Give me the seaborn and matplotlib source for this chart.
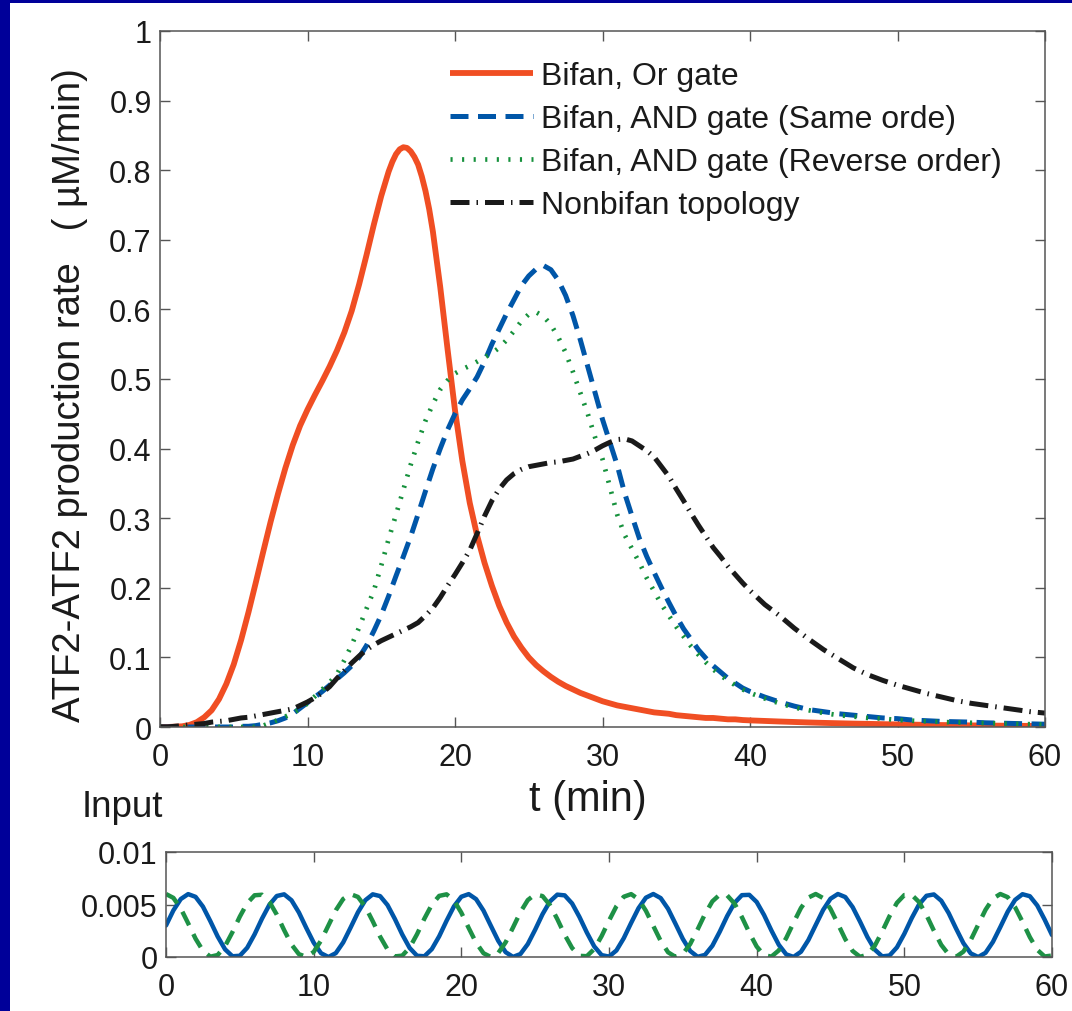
import numpy as np
import pandas as pd
import matplotlib
matplotlib.use("Agg")
import matplotlib.pyplot as plt
from matplotlib.patches import Rectangle
import seaborn as sns

# ---------------- data ----------------
# sampling times of the output curves (min)
t_main = np.concatenate([np.arange(0, 40.5, 0.5), np.arange(41, 61, 1)])

# the Or-gate curve has a few extra samples round its peak
t_or = np.sort(np.concatenate([t_main, [15.75, 16.25, 16.75, 17.25, 17.75, 18.25]]))
or_gate = [
    0.000, 0.000, 0.0005, 0.001, 0.003, 0.007, 0.014, 0.024, 0.040, 0.062, 0.090,
    0.125, 0.165, 0.208, 0.252, 0.295, 0.335, 0.372, 0.405, 0.433, 0.456,
    0.477, 0.497, 0.518, 0.541, 0.567, 0.598, 0.636, 0.678, 0.722, 0.763,
    0.798, 0.812, 0.823, 0.830, 0.833, 0.832, 0.827, 0.819, 0.808, 0.791, 0.770,
    0.744, 0.712, 0.632, 0.542, 0.455,
    0.382, 0.322, 0.275, 0.236, 0.203, 0.174, 0.150, 0.130, 0.114, 0.100,
    0.089, 0.080, 0.072, 0.065, 0.059, 0.054, 0.049, 0.045, 0.041, 0.037,
    0.034, 0.031, 0.029, 0.027, 0.025, 0.023, 0.021, 0.020, 0.019, 0.017,
    0.016, 0.015, 0.014, 0.013, 0.013, 0.012, 0.011, 0.011, 0.010, 0.0095,
    0.0087, 0.0079, 0.0072, 0.0065, 0.0059, 0.0054, 0.0049, 0.0045, 0.0041, 0.0037,
    0.0034, 0.0031, 0.0028, 0.0026, 0.0023, 0.0021, 0.0019, 0.0017, 0.0016, 0.0014,
]

and_same = [
    0, 0, 0, 0, 0, 0, 0, 0, 0, 0, 0,
    0.001, 0.001, 0.002, 0.004, 0.006, 0.009, 0.013, 0.019, 0.027, 0.035,
    0.043, 0.051, 0.060, 0.069, 0.078, 0.088, 0.100, 0.117, 0.138, 0.161,
    0.188, 0.217, 0.245, 0.274, 0.306, 0.339, 0.371, 0.400, 0.427, 0.450,
    0.470, 0.486, 0.503, 0.525, 0.550, 0.572, 0.594, 0.614, 0.634, 0.648,
    0.658, 0.663, 0.657, 0.642, 0.620, 0.591, 0.556, 0.518, 0.480, 0.442,
    0.409, 0.376, 0.336, 0.303, 0.271, 0.245, 0.222, 0.200, 0.179, 0.159,
    0.141, 0.126, 0.111, 0.099, 0.088, 0.079, 0.070, 0.063, 0.056, 0.051,
    0.043, 0.036, 0.030, 0.025, 0.022, 0.019, 0.017, 0.015, 0.013, 0.012,
    0.010, 0.009, 0.008, 0.0075, 0.007, 0.006, 0.0055, 0.005, 0.0045, 0.004,
]

and_reverse = [
    0, 0, 0, 0, 0, 0, 0, 0, 0, 0, 0, 0, 0, 0,
    0.002, 0.006, 0.010, 0.015, 0.020, 0.026, 0.034,
    0.044, 0.054, 0.064, 0.076, 0.096, 0.118, 0.143, 0.170, 0.196, 0.232,
    0.270, 0.305, 0.341, 0.377, 0.410, 0.440, 0.464, 0.485, 0.498, 0.508,
    0.514, 0.519, 0.525, 0.531, 0.537, 0.545, 0.556, 0.569, 0.583, 0.593,
    0.596, 0.590, 0.578, 0.560, 0.538, 0.510, 0.480, 0.450, 0.416, 0.385,
    0.345, 0.305, 0.276, 0.256, 0.236, 0.214, 0.195, 0.176, 0.160, 0.144,
    0.130, 0.116, 0.104, 0.093, 0.083, 0.074, 0.067, 0.060, 0.054, 0.049,
    0.041, 0.034, 0.028, 0.024, 0.020, 0.017, 0.015, 0.013, 0.012, 0.010,
    0.009, 0.008, 0.0072, 0.0065, 0.006, 0.0055, 0.005, 0.0045, 0.004, 0.0035,
]

nonbifan = [
    0.000, 0.000, 0.001, 0.002, 0.003, 0.004, 0.005, 0.007, 0.008, 0.009, 0.011,
    0.013, 0.014, 0.016, 0.018, 0.020, 0.022, 0.024, 0.026, 0.031, 0.036,
    0.042, 0.049, 0.058, 0.070, 0.081, 0.092, 0.102, 0.111, 0.118, 0.124,
    0.129, 0.134, 0.139, 0.144, 0.150, 0.160, 0.171, 0.186, 0.203, 0.219,
    0.236, 0.254, 0.278, 0.303, 0.325, 0.342, 0.355, 0.364, 0.370, 0.374,
    0.376, 0.378, 0.380, 0.381, 0.383, 0.385, 0.389, 0.393, 0.398, 0.404,
    0.409, 0.413, 0.414, 0.411, 0.404, 0.397, 0.388, 0.374, 0.360, 0.342,
    0.325, 0.307, 0.290, 0.274, 0.258, 0.245, 0.231, 0.219, 0.207, 0.196,
    0.176, 0.160, 0.142, 0.126, 0.111, 0.098, 0.085, 0.075, 0.067, 0.060,
    0.054, 0.048, 0.043, 0.038, 0.034, 0.031, 0.028, 0.025, 0.022, 0.020,
]

series_labels = [
    "Bifan, Or gate",
    "Bifan, AND gate (Same orde)",
    "Bifan, AND gate (Reverse order)",
    "Nonbifan topology",
]

# input signals, sampled every 0.5 min (units of 1e-3)
t_input = np.arange(0, 60.5, 0.5)
input_a = [
    3.00, 4.44, 5.52, 5.99, 5.73, 4.80, 3.42, 1.95, 0.73, 0.07, 0.12, 0.88, 2.16,
    3.65, 4.97, 5.81, 5.97, 5.40, 4.24, 2.77, 1.37, 0.36, 0.00, 0.37, 1.39,
    2.80, 4.26, 5.41, 5.97, 5.80, 4.95, 3.62, 2.14, 0.86, 0.12, 0.07, 0.75,
    1.97, 3.45, 4.82, 5.74, 5.99, 5.51, 4.42, 2.97, 1.54, 0.46, 0.01, 0.28,
    1.23, 2.60, 4.08, 5.29, 5.94, 5.87, 5.10, 3.81, 2.33, 1.01, 0.18, 0.04,
    0.62, 1.79, 3.25, 4.65, 5.65, 6.00, 5.61, 4.59, 3.17, 1.72, 0.57, 0.02,
    0.20, 1.07, 2.41, 3.89, 5.15, 5.89, 5.92, 5.24, 4.00, 2.52, 1.16, 0.25,
    0.01, 0.50, 1.61, 3.05, 4.48, 5.55, 6.00, 5.71, 4.75, 3.37, 1.90, 0.70,
    0.06, 0.14, 0.92, 2.21, 3.70, 5.01, 5.83, 5.96, 5.36, 4.19, 2.72, 1.32,
    0.34, 0.00, 0.40, 1.44, 2.85, 4.31, 5.44, 5.98, 5.79, 4.91, 3.57, 2.09,
]
input_b = [
    6.00, 5.63, 4.62, 3.21, 1.75, 0.60, 0.03, 0.19, 1.04, 2.37, 3.85, 5.13, 5.88,
    5.93, 5.26, 4.04, 2.56, 1.19, 0.27, 0.01, 0.48, 1.57, 3.01, 4.45, 5.53,
    5.99, 5.72, 4.78, 3.41, 1.94, 0.72, 0.06, 0.13, 0.89, 2.17, 3.66, 4.98,
    5.82, 5.97, 5.39, 4.22, 2.76, 1.36, 0.36, 0.00, 0.38, 1.40, 2.81, 4.27,
    5.42, 5.97, 5.80, 4.94, 3.61, 2.12, 0.86, 0.11, 0.08, 0.76, 1.99, 3.46,
    4.83, 5.74, 5.99, 5.50, 4.40, 2.96, 1.53, 0.45, 0.01, 0.29, 1.24, 2.62,
    4.09, 5.30, 5.94, 5.87, 5.09, 3.80, 2.32, 1.00, 0.17, 0.04, 0.63, 1.80,
    3.27, 4.67, 5.66, 6.00, 5.61, 4.58, 3.16, 1.70, 0.57, 0.02, 0.21, 1.08,
    2.42, 3.90, 5.16, 5.90, 5.92, 5.23, 3.99, 2.51, 1.15, 0.25, 0.01, 0.51,
    1.62, 3.07, 4.50, 5.56, 6.00, 5.70, 4.74, 3.36, 1.89, 0.69, 0.05, 0.14,
]

main_xticks = [0, 10, 20, 30, 40, 50, 60]
main_yticks = [0, 0.1, 0.2, 0.3, 0.4, 0.5, 0.6, 0.7, 0.8, 0.9, 1.0]
main_yticklabels = ["0", "0.1", "0.2", "0.3", "0.4", "0.5", "0.6", "0.7", "0.8", "0.9", "1"]
input_yticks = [0, 0.005, 0.01]
input_yticklabels = ["0", "0.005", "0.01"]

# ---------------- style ----------------
sns.set_theme(style="white")
plt.rcParams["font.family"] = ["Liberation Sans", "DejaVu Sans"]

W, H = 1072, 1012
NAVY = "#000099"
RED = "#F04E23"
BLUE = "#0056A8"
GREEN = "#16913C"
BLACK = "#1A1A1A"
SPINE = "#555555"
TXT = "#1A1A1A"

fig = plt.figure(figsize=(W / 100, H / 100), dpi=100)
fig.patch.set_facecolor(NAVY)
fig.add_artist(Rectangle((10 / W, 0), 1 - 10 / W, 1 - 4 / H, transform=fig.transFigure,
                         facecolor="white", edgecolor="none", zorder=-5))

ax = fig.add_axes([160 / W, (H - 728) / H, 885 / W, 696 / H])
ax2 = fig.add_axes([166 / W, (H - 958) / H, 886 / W, 105 / H])

df_or = pd.DataFrame({"t": t_or, "or": or_gate})
df_main = pd.DataFrame({"t": t_main, "same": and_same,
                        "rev": and_reverse, "non": nonbifan})
df_in = pd.DataFrame({"t": t_input, "a": np.array(input_a) * 1e-3,
                      "b": np.array(input_b) * 1e-3})

# main panel curves: (table, column, colour, width, dash pattern)
styles = [
    (df_or, "or", RED, 4.2, None),
    (df_main, "same", BLUE, 3.6, (3.6, 1.9)),
    (df_main, "rev", GREEN, 3.4, (0.45, 2.0)),
    (df_main, "non", BLACK, 3.6, (3.8, 1.4, 0.3, 1.4)),
]
handles = []
for (df, col, colr, lw, dash), lab in zip(styles, series_labels):
    sns.lineplot(data=df, x="t", y=col, ax=ax, color=colr, linewidth=lw,
                 errorbar=None, sort=False, label=lab)
    line = ax.lines[-1]
    line.set_solid_capstyle("butt")
    line.set_dash_capstyle("butt")
    line.set_solid_joinstyle("round")
    if dash is not None:
        line.set_dashes(dash)
    handles.append(line)

# input panel
sns.lineplot(data=df_in, x="t", y="a", ax=ax2, color=BLUE, linewidth=3.2,
             errorbar=None, sort=False)
sns.lineplot(data=df_in, x="t", y="b", ax=ax2, color="#1E9146", linewidth=3.2,
             errorbar=None, sort=False)
ax2.lines[-1].set_dashes((3.4, 2.2))
ax2.lines[-1].set_dash_capstyle("butt")

for a in (ax, ax2):
    a.set_facecolor("white")
    a.grid(False)
    for s in a.spines.values():
        s.set_color(SPINE)
        s.set_linewidth(1.1)
    a.tick_params(which="both", direction="in", length=7, width=1.0, color=SPINE,
                  labelcolor=TXT, labelsize=22, top=True, right=True,
                  bottom=True, left=True)
    a.tick_params(axis="y", pad=6)
    a.tick_params(axis="x", pad=11)
    a.set_xlim(0, 60)
    a.set_xticks(main_xticks)
    a.set_xticklabels([str(v) for v in main_xticks])

ax.set_ylim(0, 1)
ax.set_yticks(main_yticks)
ax.set_yticklabels(main_yticklabels)
ax2.set_ylim(0, 0.01)
ax2.set_yticks(input_yticks)
ax2.set_yticklabels(input_yticklabels)

ax.set_ylabel("ATF2-ATF2 production rate   ( \u00b5M/min)", fontsize=27.5, color=TXT)
ax.yaxis.set_label_coords(-0.081, 0.478)
ax.set_xlabel("t (min)", fontsize=30, color=TXT)
ax.xaxis.set_label_coords(0.484, -0.074)
ax2.set_xlabel("")
ax2.set_ylabel("")

fig.text(82 / W, 1 - 817 / H, "Input", fontsize=26.5, color=TXT, ha="left", va="baseline")

ax.legend(handles=handles, labels=series_labels, loc="upper left",
          bbox_to_anchor=(450 / W, 1 - 62 / H), bbox_transform=fig.transFigure,
          frameon=False, fontsize=23, handlelength=2.6, handletextpad=0.25,
          labelspacing=0.41, borderpad=0, borderaxespad=0, labelcolor=TXT)

fig.savefig("out.png", dpi=100)
